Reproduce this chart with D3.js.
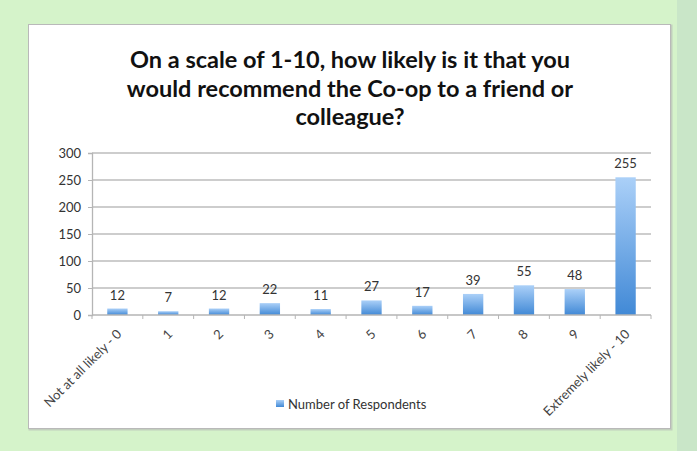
<!DOCTYPE html>
<html>
<head>
<meta charset="utf-8">
<script src="https://cdn.jsdelivr.net/npm/d3@7"></script>
<style>
  html, body { margin: 0; padding: 0; background: #d5f3ca; }
  svg { display: block; }
</style>
</head>
<body>
<svg id="chart" width="697" height="451"></svg>
<script>
// Survey responses: likelihood to recommend (0-10)
const categories = ["Not at all likely - 0", "1", "2", "3", "4", "5", "6", "7", "8", "9", "Extremely likely - 10"];
const respondents = [12, 7, 12, 22, 11, 27, 17, 39, 55, 48, 255];
const yTicks = [0, 50, 100, 150, 200, 250, 300];
const titleLines = [
  "On a scale of 1-10, how likely is it that you",
  "would recommend the Co-op to a friend or",
  "colleague?"
];
const seriesName = "Number of Respondents";

const svg = d3.select("#chart");
const font = "Lato, 'Open Sans', sans-serif";
const labelSize = 13;

// page background and right-hand strip
svg.append("rect").attr("x", 0).attr("y", 0).attr("width", 697).attr("height", 451).attr("fill", "#d5f3ca");
svg.append("rect").attr("x", 677).attr("y", 0).attr("width", 20).attr("height", 451).attr("fill", "#c9e6c8");

// chart frame with soft shadow
svg.append("rect").attr("x", 29.5).attr("y", 25.5).attr("width", 642).attr("height", 404)
  .attr("fill", "none").attr("stroke", "#c2cfbd").attr("stroke-width", 2);
svg.append("rect").attr("x", 28.5).attr("y", 24.5).attr("width", 642).attr("height", 404)
  .attr("fill", "#ffffff").attr("stroke", "#b9b9b9").attr("stroke-width", 1);

// gradient for bars
const defs = svg.append("defs");
const grad = defs.append("linearGradient").attr("id", "barGrad")
  .attr("x1", 0).attr("y1", 0).attr("x2", 0).attr("y2", 1);
grad.append("stop").attr("offset", "0%").attr("stop-color", "#abd0f8");
grad.append("stop").attr("offset", "100%").attr("stop-color", "#4189d6");

// title
const title = svg.append("text")
  .attr("text-anchor", "middle")
  .attr("font-family", font)
  .attr("font-weight", "bold")
  .attr("font-size", 23.5)
  .attr("fill", "#111");
titleLines.forEach((t, i) => {
  title.append("tspan").attr("x", 350).attr("y", 68 + i * 28.5).text(t);
});

// scales
const x = d3.scaleBand().domain(categories).range([92, 651]).paddingInner(0.6).paddingOuter(0.3);
const y = d3.scaleLinear().domain([0, 300]).range([315, 153]);

// gridlines
svg.append("g").selectAll("line").data(yTicks.filter(d => d > 0)).join("line")
  .attr("x1", 92).attr("x2", 651)
  .attr("y1", d => y(d)).attr("y2", d => y(d))
  .attr("stroke", "#bdbdbd").attr("stroke-width", 1.3);

// y axis
const yAxis = svg.append("g").attr("transform", "translate(92,0)")
  .call(d3.axisLeft(y).tickValues(yTicks).tickSize(4).tickPadding(7));
yAxis.select(".domain").attr("stroke", "#b5b5b5").attr("stroke-width", 1.3);
yAxis.selectAll(".tick line").attr("stroke", "#b5b5b5");
yAxis.selectAll("text").attr("font-family", font).attr("font-size", labelSize).attr("fill", "#333");

// bars
svg.append("g").selectAll("rect").data(respondents).join("rect")
  .attr("x", (d, i) => x(categories[i]))
  .attr("y", d => y(d))
  .attr("width", x.bandwidth())
  .attr("height", d => y(0) - y(d))
  .attr("fill", "url(#barGrad)");

// value labels
svg.append("g").selectAll("text").data(respondents).join("text")
  .attr("x", (d, i) => x(categories[i]) + x.bandwidth() / 2)
  .attr("y", d => y(d) - 9)
  .attr("text-anchor", "middle")
  .attr("font-family", font).attr("font-size", labelSize).attr("fill", "#333")
  .text(d => d);

// x axis: line, ticks at category boundaries, rotated labels
const xg = svg.append("g");
xg.append("line").attr("x1", 92).attr("x2", 651).attr("y1", y(0)).attr("y2", y(0))
  .attr("stroke", "#b5b5b5").attr("stroke-width", 1.3);
const step = x.step();
const start = x(categories[0]) - (step - x.bandwidth()) / 2;
const bounds = d3.range(categories.length + 1).map(i => start + i * step);
xg.selectAll("line.tk").data(bounds).join("line").attr("class", "tk")
  .attr("x1", d => d).attr("x2", d => d)
  .attr("y1", y(0)).attr("y2", y(0) + 4)
  .attr("stroke", "#b5b5b5");
xg.selectAll("text").data(categories).join("text")
  .attr("text-anchor", "end")
  .attr("font-family", font).attr("font-size", labelSize).attr("fill", "#444")
  .attr("transform", d => `translate(${x(d) + x.bandwidth() / 2 + 5},${y(0) + 20}) rotate(-45)`)
  .text(d => d);

// legend
const lg = svg.append("g");
lg.append("rect").attr("x", 276).attr("y", 400).attr("width", 8).attr("height", 7).attr("fill", "url(#barGrad)");
lg.append("text").attr("x", 288).attr("y", 408.5)
  .attr("font-family", font).attr("font-size", labelSize).attr("fill", "#333")
  .text(seriesName);
</script>
</body>
</html>
